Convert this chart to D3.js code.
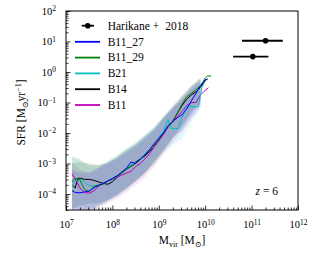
<!DOCTYPE html>
<html>
<head>
<meta charset="utf-8">
<script src="https://d3js.org/d3.v7.min.js"></script>
<style>
  body { margin: 0; background: #fff; }
  svg { display: block; }
  text { font-family: "Liberation Serif", "DejaVu Serif", serif; fill: #000; }
</style>
</head>
<body>
<svg id="chart" width="331" height="253"></svg>
<script>
// ---- data (log10 Mvir, log10 SFR) ----
var seriesNames = ["B11_27", "B11_29", "B21", "B14", "B11"];

var logMassB11_27 = [7.13, 7.2, 7.3, 7.4, 7.5, 7.6, 7.7, 7.8, 7.9, 8.0, 8.1, 8.2, 8.3, 8.4, 8.5, 8.6, 8.7, 8.8, 8.9, 9.0, 9.1, 9.2, 9.3, 9.4, 9.5, 9.6, 9.7, 9.8, 9.9, 10.0, 10.05];
var logSfrB11_27  = [-3.89, -3.95, -3.96, -3.93, -3.9, -3.8, -3.72, -3.65, -3.57, -3.49, -3.4, -3.28, -3.16, -2.95, -3.0, -2.85, -2.72, -2.55, -2.35, -2.17, -2.0, -1.75, -1.62, -1.5, -1.4, -1.22, -0.95, -0.7, -0.45, -0.25, -0.25];

var logMassB11_29 = [7.13, 7.2, 7.3, 7.4, 7.5, 7.6, 7.7, 7.8, 7.9, 8.0, 8.1, 8.2, 8.3, 8.4, 8.5, 8.6, 8.7, 8.8, 8.9, 9.0, 9.1, 9.2, 9.3, 9.4, 9.5, 9.6, 9.7, 9.8, 9.9, 10.0, 10.05, 10.13];
var logSfrB11_29  = [-3.6, -3.48, -3.55, -3.85, -3.92, -3.75, -3.7, -3.68, -3.58, -3.5, -3.42, -3.32, -3.2, -3.1, -3.0, -2.88, -2.72, -2.55, -2.4, -2.2, -2.0, -1.8, -1.62, -1.35, -1.05, -0.82, -0.7, -0.58, -0.45, -0.2, -0.13, -0.13];

var logMassB21 = [7.13, 7.2, 7.3, 7.4, 7.5, 7.6, 7.7, 7.8, 7.9, 8.0, 8.1, 8.2, 8.3, 8.4, 8.5, 8.6, 8.7, 8.8, 8.9, 9.0, 9.1, 9.2, 9.27, 9.42, 9.5, 9.6, 9.85, 9.93, 10.0];
var logSfrB21  = [-3.75, -3.55, -3.52, -3.62, -3.72, -3.74, -3.72, -3.65, -3.58, -3.5, -3.42, -3.3, -3.18, -3.05, -2.98, -2.85, -2.7, -2.55, -2.35, -2.15, -1.95, -1.55, -1.85, -1.85, -1.5, -1.14, -1.14, -0.5, -0.3];

var logMassB14 = [7.13, 7.2, 7.25, 7.3, 7.4, 7.5, 7.6, 7.7, 7.8, 7.9, 8.0, 8.1, 8.2, 8.3, 8.4, 8.5, 8.6, 8.7, 8.8, 8.9, 9.0, 9.1, 9.2, 9.3, 9.4, 9.5, 9.6, 9.7, 9.8, 9.9, 10.0, 10.05];
var logSfrB14  = [-3.7, -3.8, -3.49, -3.48, -3.52, -3.52, -3.55, -3.6, -3.65, -3.68, -3.6, -3.45, -3.3, -3.18, -3.08, -2.95, -2.85, -2.75, -2.6, -2.45, -2.25, -2.0, -1.8, -1.62, -1.35, -1.1, -0.9, -0.75, -0.65, -0.5, -0.28, -0.22];

var logMassB11 = [7.13, 7.2, 7.3, 7.4, 7.5, 7.6, 7.7, 7.8, 7.9, 8.0, 8.1, 8.2, 8.3, 8.4, 8.5, 8.6, 8.7, 8.8, 8.9, 9.0, 9.1, 9.2, 9.3, 9.4, 9.5, 9.6, 9.7, 9.8, 9.9, 10.0, 10.07];
var logSfrB11  = [-3.34, -3.5, -3.8, -3.95, -3.97, -3.9, -3.75, -3.65, -3.58, -3.52, -3.45, -3.38, -3.32, -3.25, -3.1, -3.0, -2.85, -2.68, -2.45, -2.25, -2.05, -1.8, -1.62, -1.45, -1.3, -1.1, -1.0, -1.0, -0.75, -0.6, -0.52];

// scatter bands (16th / 84th percentiles), same mass grid for all runs
var bandLogMass = [7.13, 7.3, 7.5, 7.7, 7.9, 8.1, 8.3, 8.5, 8.7, 8.9, 9.1, 9.3, 9.5, 9.7, 9.9];
var bandHiB11_27 = [-3.2, -3.3, -3.3, -3.15, -2.95, -2.8, -2.55, -2.35, -2.1, -1.85, -1.5, -1.15, -0.85, -0.5, -0.25];
var bandLoB11_27 = [-4.6, -4.6, -4.5, -4.35, -4.2, -4.05, -3.8, -3.6, -3.3, -2.9, -2.55, -2.15, -1.9, -1.45, -1.05];
var bandHiB11_29 = [-2.75, -2.85, -3.05, -3.05, -2.95, -2.75, -2.5, -2.3, -2.05, -1.8, -1.45, -1.1, -0.75, -0.45, -0.2];
var bandLoB11_29 = [-4.45, -4.5, -4.55, -4.4, -4.25, -4.05, -3.85, -3.6, -3.35, -3.0, -2.6, -2.2, -1.8, -1.35, -0.95];
var bandHiB21 = [-2.8, -2.9, -3.1, -3.1, -2.9, -2.7, -2.55, -2.35, -2.1, -1.8, -1.45, -1.2, -0.9, -0.55, -0.3];
var bandLoB21 = [-4.5, -4.35, -4.5, -4.4, -4.2, -4.1, -3.85, -3.55, -3.3, -2.95, -2.65, -2.4, -2.2, -1.65, -1.2];
var bandHiB14 = [-3.0, -2.95, -3.0, -3.05, -3.0, -2.8, -2.6, -2.4, -2.15, -1.9, -1.5, -1.15, -0.8, -0.45, -0.2];
var bandLoB14 = [-4.5, -4.4, -4.3, -4.3, -4.2, -4.0, -3.8, -3.55, -3.3, -3.0, -2.6, -2.15, -1.75, -1.3, -0.95];
var bandHiB11 = [-2.95, -3.2, -3.3, -3.15, -3.0, -2.85, -2.65, -2.45, -2.2, -1.9, -1.55, -1.2, -0.9, -0.6, -0.35];
var bandLoB11 = [-4.6, -4.65, -4.6, -4.45, -4.3, -4.15, -3.95, -3.7, -3.45, -3.1, -2.7, -2.3, -1.95, -1.55, -1.15];

// Harikane et al. 2018 points
var harikaneMass   = [2.0e11, 1.06e11];
var harikaneMassLo = [6.2e10, 4.0e10];
var harikaneMassHi = [4.7e11, 2.3e11];
var harikaneSfr    = [10.6, 3.2];

var seriesColors = ["#0000ff", "#008000", "#00bfbf", "#000000", "#bf00bf"];

var svg = d3.select("#chart");
var plotLeft = 66, plotRight = 298, plotTop = 11, plotBottom = 210;

var x = d3.scaleLog().domain([1e7, 1e12]).range([plotLeft, plotRight]);
var y = d3.scaleLog().domain([3e-5, 1e2]).range([plotBottom, plotTop]);

svg.append("defs").append("clipPath").attr("id", "plotclip")
    .append("rect").attr("x", plotLeft).attr("y", plotTop)
    .attr("width", plotRight - plotLeft).attr("height", plotBottom - plotTop);

var plot = svg.append("g").attr("clip-path", "url(#plotclip)");

function buildSeries() {
    return [
        { name: seriesNames[0], m: logMassB11_27, s: logSfrB11_27, hi: bandHiB11_27, lo: bandLoB11_27, color: seriesColors[0] },
        { name: seriesNames[1], m: logMassB11_29, s: logSfrB11_29, hi: bandHiB11_29, lo: bandLoB11_29, color: seriesColors[1] },
        { name: seriesNames[2], m: logMassB21, s: logSfrB21, hi: bandHiB21, lo: bandLoB21, color: seriesColors[2] },
        { name: seriesNames[3], m: logMassB14, s: logSfrB14, hi: bandHiB14, lo: bandLoB14, color: seriesColors[3] },
        { name: seriesNames[4], m: logMassB11, s: logSfrB11, hi: bandHiB11, lo: bandLoB11, color: seriesColors[4] }
    ];
}
var allSeries = buildSeries();

// bands first
var area = d3.area()
    .x(function(d) { return x(Math.pow(10, d[0])); })
    .y0(function(d) { return y(Math.pow(10, d[1])); })
    .y1(function(d) { return y(Math.pow(10, d[2])); });

[3, 4, 2, 1, 0].forEach(function(i) {
    var S = allSeries[i];
    var pts = bandLogMass.map(function(m, j) { return [m, S.lo[j], S.hi[j]]; });
    plot.append("path").attr("d", area(pts))
        .attr("fill", S.color).attr("fill-opacity", 0.11).attr("stroke", "none");
});

// median lines
var line = d3.line()
    .x(function(d) { return x(Math.pow(10, d[0])); })
    .y(function(d) { return y(Math.pow(10, d[1])); });

[3, 4, 2, 1, 0].forEach(function(i) {
    var S = allSeries[i];
    var pts = S.m.map(function(m, j) { return [m, S.s[j]]; });
    plot.append("path").attr("d", line(pts))
        .attr("fill", "none").attr("stroke", S.color).attr("stroke-width", 1);
});

// Harikane error bars
harikaneMass.forEach(function(m, i) {
    svg.append("line")
        .attr("x1", x(harikaneMassLo[i])).attr("x2", x(harikaneMassHi[i]))
        .attr("y1", y(harikaneSfr[i])).attr("y2", y(harikaneSfr[i]))
        .attr("stroke", "#000").attr("stroke-width", 1.8);
    svg.append("circle").attr("cx", x(m)).attr("cy", y(harikaneSfr[i]))
        .attr("r", 2.8).attr("fill", "#000");
});

// axes
function majorTicks(a, b) {
    var t = [];
    for (var e = a; e <= b; e++) t.push(Math.pow(10, e));
    return t;
}
function minorTicks(a, b, lo, hi) {
    var t = [];
    for (var e = a; e <= b; e++) {
        for (var k = 2; k <= 9; k++) {
            var v = k * Math.pow(10, e);
            if (v >= lo && v <= hi) t.push(v);
        }
    }
    return t;
}
function powLabel(sel) {
    sel.each(function(d) {
        var e = Math.round(Math.log10(d));
        var t = d3.select(this);
        t.text(null);
        t.append("tspan").text("10");
        t.append("tspan").attr("dy", "-0.5em").attr("font-size", "7.5px")
            .text(e < 0 ? "\u2212" + (-e) : String(e));
    });
}

var xMajor = svg.append("g").attr("transform", "translate(0," + plotBottom + ")")
    .call(d3.axisBottom(x).tickValues(majorTicks(7, 12)).tickSizeInner(-4.5).tickSizeOuter(0).tickPadding(11));
var xMinor = svg.append("g").attr("transform", "translate(0," + plotBottom + ")")
    .call(d3.axisBottom(x).tickValues(minorTicks(7, 11, 1e7, 1e12)).tickSizeInner(-2.5).tickSizeOuter(0).tickFormat(""));
var yMajor = svg.append("g").attr("transform", "translate(" + plotLeft + ",0)")
    .call(d3.axisLeft(y).tickValues(majorTicks(-4, 2)).tickSizeInner(-4.5).tickSizeOuter(0).tickPadding(10));
var yMinor = svg.append("g").attr("transform", "translate(" + plotLeft + ",0)")
    .call(d3.axisLeft(y).tickValues(minorTicks(-5, 1, 3e-5, 1e2)).tickSizeInner(-2.5).tickSizeOuter(0).tickFormat(""));

[xMajor, xMinor, yMajor, yMinor].forEach(function(g) {
    g.select(".domain").remove();
    g.selectAll("line").attr("stroke", "#000").attr("stroke-width", 0.8);
    g.selectAll("text").attr("font-family", null).attr("font-size", "10.5px").attr("fill", "#000");
});
xMajor.selectAll("text").call(powLabel);
yMajor.selectAll("text").call(powLabel);

svg.append("rect").attr("x", plotLeft).attr("y", plotTop)
    .attr("width", plotRight - plotLeft).attr("height", plotBottom - plotTop)
    .attr("fill", "none").attr("stroke", "#000").attr("stroke-width", 1);

// axis labels
var xl = svg.append("text").attr("x", (plotLeft + plotRight) / 2).attr("y", 244)
    .attr("text-anchor", "middle").attr("font-size", "11.5px");
xl.append("tspan").text("M");
xl.append("tspan").attr("dy", 2.5).attr("font-size", "8px").text("vir");
xl.append("tspan").attr("dy", -2.5).text(" [M");
xl.append("tspan").attr("dy", 2.5).attr("font-size", "8px").text("\u2299");
xl.append("tspan").attr("dy", -2.5).text("]");

var yl = svg.append("text").attr("transform", "translate(25," + ((plotTop + plotBottom) / 2 + 2) + ") rotate(-90)")
    .attr("text-anchor", "middle").attr("font-size", "11.5px");
yl.append("tspan").text("SFR [M");
yl.append("tspan").attr("dy", 2.5).attr("font-size", "8px").text("\u2299");
yl.append("tspan").attr("dy", -2.5).text("yr");
yl.append("tspan").attr("dy", -4).attr("font-size", "8px").text("\u22121");
yl.append("tspan").attr("dy", 4).text("]");

// z label
var zl = svg.append("text").attr("x", 278).attr("y", 195)
    .attr("text-anchor", "end").attr("font-size", "11.5px");
zl.append("tspan").attr("font-style", "italic").text("z");
zl.append("tspan").text(" = 6");

// legend
var legRowY = [25.7, 41.8, 57.6, 73.4, 89.2, 105];
var leg = svg.append("g");
leg.append("line").attr("x1", 81.7).attr("x2", 94).attr("y1", legRowY[0]).attr("y2", legRowY[0])
    .attr("stroke", "#000").attr("stroke-width", 1.8);
leg.append("circle").attr("cx", 87.8).attr("cy", legRowY[0]).attr("r", 2.8).attr("fill", "#000");
var ht = leg.append("text").attr("x", 107.7).attr("y", legRowY[0] + 3.8).attr("font-size", "11.5px");
ht.append("tspan").text("Harikane");
ht.append("tspan").attr("dx", 3).text("+");
ht.append("tspan").attr("dx", 6).text("2018");

allSeries.forEach(function(S, i) {
    var yy = legRowY[i + 1];
    leg.append("line").attr("x1", 75).attr("x2", 100).attr("y1", yy).attr("y2", yy)
        .attr("stroke", S.color).attr("stroke-width", 1.8);
    leg.append("text").attr("x", 107.7).attr("y", yy + 3.8).attr("font-size", "11.5px").text(S.name);
});
</script>
</body>
</html>
